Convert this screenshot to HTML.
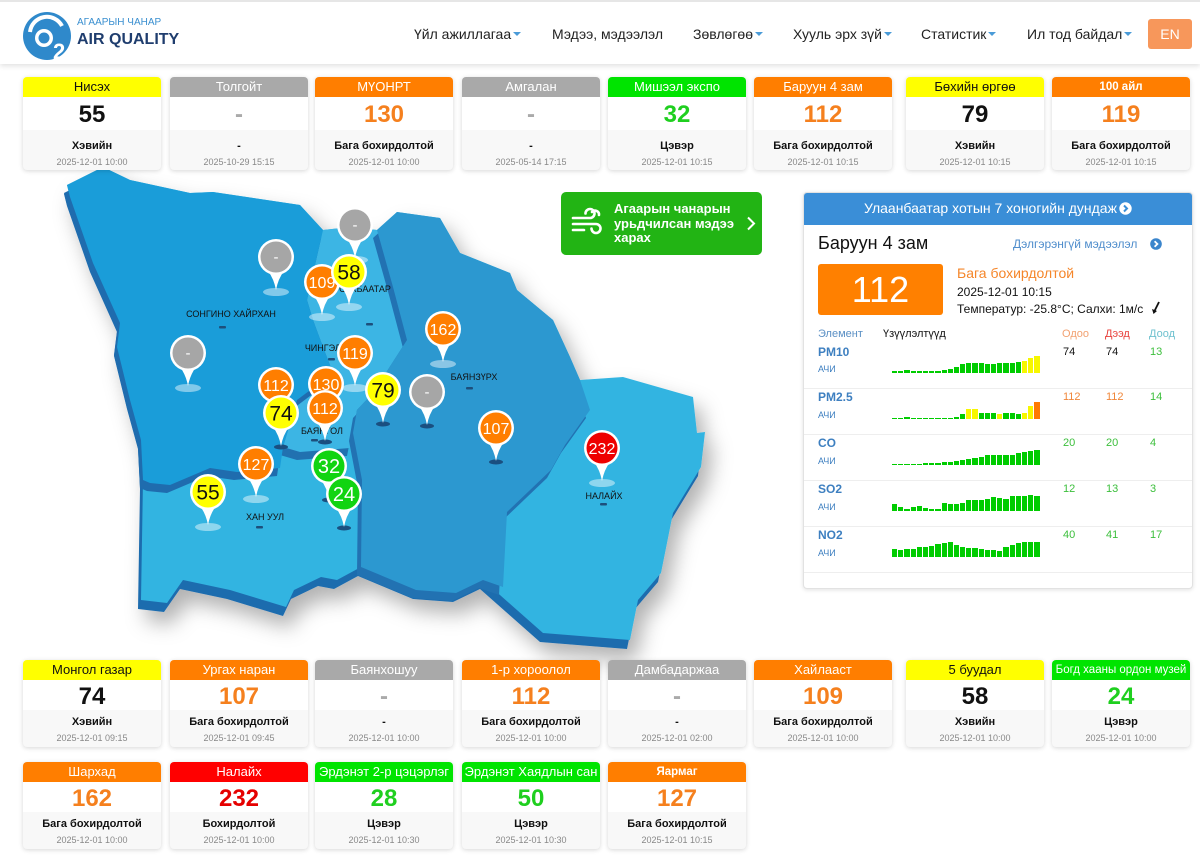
<!DOCTYPE html>
<html>
<head>
<meta charset="utf-8">
<style>
*{box-sizing:border-box}
html,body{margin:0;padding:0;background:#fff}
body{width:1200px;height:867px;overflow:hidden;position:relative;font-family:"Liberation Sans","DejaVu Sans",sans-serif;color:#111}
.abs{position:absolute}
#hdr{position:absolute;left:0;top:0;width:1200px;height:64px;background:#fff;border-top:2px solid #e6e6e6;box-shadow:0 2px 5px rgba(0,0,0,.12);z-index:5}
.nav{position:absolute;top:22px;font-size:14px;line-height:20px;color:#222;white-space:nowrap}
.car{display:inline-block;width:0;height:0;border-left:4px solid transparent;border-right:4px solid transparent;border-top:4px solid #4a9bd8;vertical-align:middle;margin-left:2px;margin-top:-2px}
#en{position:absolute;left:1148px;top:17px;width:44px;height:30px;background:#f7975b;border-radius:3px;color:#fff;font-size:14px;line-height:30px;text-align:center}
.c{position:absolute;width:138px;border-radius:4px;overflow:hidden;background:#f8f8f8;box-shadow:0 1px 5px rgba(0,0,0,.16);text-align:center;z-index:4}
.c .h{height:20px;line-height:20px;font-size:13px;color:#fff;white-space:nowrap;overflow:hidden}
.c .n{background:#fff;font-weight:bold;font-size:24px}
.c .s{font-size:11px;font-weight:bold;line-height:14px;color:#111}
.c .d{font-size:9px;line-height:12px;margin-top:3px;color:#888}
.t .n{height:33px;line-height:35px}
.t .i{height:40px;padding-top:9px}
.b .n{height:30px;line-height:34px}
.b .i{height:37px;padding-top:5px}
.Y{background:#ffff00;color:#111!important}
.O{background:#ff7e00}
.G{background:#00e400}
.R{background:#ff0000}
.A{background:#a9a9a9}
.sm{font-size:11.5px!important;font-weight:bold}
.ny{color:#111}.no{color:#f5801e}.ng{color:#1fcf1f}.nr{color:#e50000}.na{color:#aaa}
#map{position:absolute;left:0;top:0;z-index:1}
#btn{position:absolute;left:561px;top:192px;width:201px;height:63px;background:#22b414;border-radius:5px;z-index:3;color:#fff}
#panel{position:absolute;left:803px;top:192px;width:390px;height:397px;border:1px solid #e2e2e2;border-radius:4px;background:#fff;box-shadow:0 1px 4px rgba(0,0,0,.12);z-index:3;overflow:hidden}
.p{position:absolute;white-space:nowrap}
.bars{position:absolute;left:892px;width:150px;height:17px;display:flex;align-items:flex-end;gap:1px;z-index:4}
.bars i{flex:0 0 5.2px;background:#00cc00;display:block}
.bars i.y{background:#f7f700}
.bars i.o{background:#ff7a00}
.sep{position:absolute;left:804px;width:388px;height:1px;background:#eeeeee;z-index:4}
.lbl{position:absolute;left:818px;font-size:12px;font-weight:bold;color:#3d7fc0;z-index:4;line-height:14px}
.achi{position:absolute;left:818px;font-size:9px;color:#3d7fc0;z-index:4;line-height:12px}
.v{position:absolute;font-size:11px;line-height:14px;z-index:4}
.gv{color:#3cbf3c}.ov{color:#f0873a}
</style>
</head>
<body>

<div id="hdr">
  <svg class="abs" style="left:20px;top:8px" width="56" height="56" viewBox="0 0 56 56">
    <circle cx="27" cy="26" r="24" fill="#2f89cb"/>
    <path d="M10 22 A17 17 0 0 1 42 16" stroke="#fff" stroke-width="4" fill="none"/>
    <circle cx="24" cy="28" r="9" fill="#fff"/>
    <circle cx="24" cy="28" r="5.5" fill="#2f89cb"/>
    <text x="33" y="49" font-family="Liberation Sans" font-weight="bold" font-size="22" fill="#fff">2</text>
  </svg>
  <div class="abs" style="left:77px;top:15px;font-size:10px;line-height:12px;color:#3a8fd0">АГААРЫН ЧАНАР</div>
  <div class="abs" style="left:77px;top:28px;font-size:16px;line-height:19px;font-weight:bold;color:#1f3d6e">AIR QUALITY</div>
  <div class="nav" style="left:414px">Үйл ажиллагаа<span class="car"></span></div>
  <div class="nav" style="left:552px">Мэдээ, мэдээлэл</div>
  <div class="nav" style="left:693px">Зөвлөгөө<span class="car"></span></div>
  <div class="nav" style="left:793px">Хууль эрх зүй<span class="car"></span></div>
  <div class="nav" style="left:921px">Статистик<span class="car"></span></div>
  <div class="nav" style="left:1027px">Ил тод байдал<span class="car"></span></div>
  <div id="en">EN</div>
</div>

<!-- MAP -->
<svg id="map" width="1200" height="867" viewBox="0 0 1200 867" font-family="Liberation Sans, sans-serif">
  <defs>
    <filter id="ds" x="-20%" y="-20%" width="140%" height="140%">
      <feDropShadow dx="8" dy="12" stdDeviation="10" flood-color="#000" flood-opacity="0.3"/>
    </filter>
    <g id="pb">
      <path d="M-8,14 Q-2,22 0,33 Q2,22 8,14 Z" fill="#fff"/>
      <circle r="18" fill="#fff"/>
    </g>
  </defs>
  <g filter="url(#ds)">
    <polygon transform="translate(-3,9)" fill="#1f6cae" points="67,185 103,167 130,180 190,193 213,192 300,205 323,230 350,227 377,230 397,212 440,218 460,253 510,273 517,290 553,320 570,357 580,380 623,377 693,397 697,433 705,432 701,467 673,513 661,573 638,600 630,640 543,633 483,580 456,593 416,590 361,567 337,580 321,577 294,590 286,607 230,590 183,580 167,603 141,600 143,480 141,440 130,400 117,347 120,323 93,263 70,197"/>
    <polygon fill="#33b4e1" points="67,185 103,167 130,180 190,193 213,192 300,205 323,230 350,227 377,230 397,212 440,218 460,253 510,273 517,290 553,320 570,357 580,380 623,377 693,397 697,433 705,432 701,467 673,513 661,573 638,600 630,640 543,633 483,580 456,593 416,590 361,567 337,580 321,577 294,590 286,607 230,590 183,580 167,603 141,600 143,480 141,440 130,400 117,347 120,323 93,263 70,197"/>
  </g>
  <polygon transform="translate(-3,8)" fill="#2171b0" points="323,230 350,227 377,230 393,287 407,340 373,393 357,410 353,433 350,448 300,452 283,447 297,400 333,373 323,347 313,320 307,300"/>
  <polygon fill="#3cb5e4" points="323,230 350,227 377,230 393,287 407,340 373,393 357,410 353,433 350,448 300,452 283,447 297,400 333,373 323,347 313,320 307,300"/>
  <polygon transform="translate(-4,8)" fill="#2272b2" points="377,230 397,212 440,218 460,253 510,273 517,290 553,320 570,357 580,380 590,410 565,445 551,470 507,512 503,587 483,580 456,593 416,590 361,567 362,480 353,433 357,410 373,393 407,340 393,287"/>
  <polygon fill="#2c98d0" points="377,230 397,212 440,218 460,253 510,273 517,290 553,320 570,357 580,380 590,410 565,445 551,470 507,512 503,587 483,580 456,593 416,590 361,567 362,480 353,433 357,410 373,393 407,340 393,287"/>
  <polygon transform="translate(-3,8)" fill="#1f6cae" points="67,185 103,167 130,180 190,193 213,192 300,205 323,230 307,300 313,320 323,347 333,373 297,400 283,447 280,468 237,472 210,468 170,485 150,483 143,480 141,440 130,400 117,347 120,323 93,263 70,197"/>
  <polygon fill="#1a9dd9" points="67,185 103,167 130,180 190,193 213,192 300,205 323,230 307,300 313,320 323,347 333,373 297,400 283,447 280,468 237,472 210,468 170,485 150,483 143,480 141,440 130,400 117,347 120,323 93,263 70,197"/>

  <!-- labels -->
  <g font-size="9" fill="#111" text-anchor="middle">
    <text x="231" y="317">СОНГИНО ХАЙРХАН</text>
    <text x="365" y="292">СҮХБААТАР</text>
    <text x="332" y="351">ЧИНГЭЛТЭЙ</text>
    <text x="474" y="380">БАЯНЗҮРХ</text>
    <text x="322" y="434">БАЯНГОЛ</text>
    <text x="265" y="520">ХАН УУЛ</text>
    <text x="604" y="499">НАЛАЙХ</text>
  </g>
  <g fill="#1d4f7c">
    <rect x="219" y="326" width="7" height="2.5" rx="1"/>
    <rect x="366" y="323" width="7" height="2.5" rx="1"/>
    <rect x="328" y="358" width="7" height="2.5" rx="1"/>
    <rect x="466" y="387" width="7" height="2.5" rx="1"/>
    <rect x="311" y="439" width="7" height="2.5" rx="1"/>
    <rect x="256" y="526" width="7" height="2.5" rx="1"/>
    <rect x="600" y="503" width="7" height="2.5" rx="1"/>
  </g>

  <!-- pins -->
  <g font-family="Liberation Sans, sans-serif" text-anchor="middle">
    <g transform="translate(355,225)"><ellipse cy="35" rx="13" ry="4" fill="#fff" fill-opacity=".45"/><use href="#pb"/><circle r="15.5" fill="#a6a6a6"/><text y="5" font-size="15" fill="#fff">-</text></g>
    <g transform="translate(276,257)"><ellipse cy="35" rx="13" ry="4" fill="#fff" fill-opacity=".45"/><use href="#pb"/><circle r="15.5" fill="#a6a6a6"/><text y="5" font-size="15" fill="#fff">-</text></g>
    <g transform="translate(322,282)"><ellipse cy="35" rx="13" ry="4" fill="#fff" fill-opacity=".45"/><use href="#pb"/><circle r="15.5" fill="#ff7e00"/><text y="6" font-size="16" fill="#fff">109</text></g>
    <g transform="translate(349,272)"><ellipse cy="35" rx="13" ry="4" fill="#fff" fill-opacity=".45"/><use href="#pb"/><circle r="15.5" fill="#ffff00"/><text y="7.5" font-size="21" fill="#111">58</text></g>
    <g transform="translate(443,329)"><ellipse cy="35" rx="13" ry="4" fill="#fff" fill-opacity=".45"/><use href="#pb"/><circle r="15.5" fill="#ff7e00"/><text y="6" font-size="16" fill="#fff">162</text></g>
    <g transform="translate(355,353)"><ellipse cy="35" rx="13" ry="4" fill="#fff" fill-opacity=".45"/><use href="#pb"/><circle r="15.5" fill="#ff7e00"/><text y="6" font-size="16" fill="#fff">119</text></g>
    <g transform="translate(188,353)"><ellipse cy="35" rx="13" ry="4" fill="#fff" fill-opacity=".45"/><use href="#pb"/><circle r="15.5" fill="#a6a6a6"/><text y="5" font-size="15" fill="#fff">-</text></g>
    <g transform="translate(276,385)"><ellipse cy="34" rx="7" ry="2.5" fill="#1a4f80"/><use href="#pb"/><circle r="15.5" fill="#ff7e00"/><text y="6" font-size="16" fill="#fff">112</text></g>
    <g transform="translate(326,384)"><ellipse cy="34" rx="7" ry="2.5" fill="#1a4f80"/><use href="#pb"/><circle r="15.5" fill="#ff7e00"/><text y="6" font-size="16" fill="#fff">130</text></g>
    <g transform="translate(383,390)"><ellipse cy="34" rx="7" ry="2.5" fill="#1a4f80"/><use href="#pb"/><circle r="15.5" fill="#ffff00"/><text y="7.5" font-size="21" fill="#111">79</text></g>
    <g transform="translate(427,392)"><ellipse cy="34" rx="7" ry="2.5" fill="#1a4f80"/><use href="#pb"/><circle r="15.5" fill="#a6a6a6"/><text y="5" font-size="15" fill="#fff">-</text></g>
    <g transform="translate(281,413)"><ellipse cy="34" rx="7" ry="2.5" fill="#1a4f80"/><use href="#pb"/><circle r="15.5" fill="#ffff00"/><text y="7.5" font-size="21" fill="#111">74</text></g>
    <g transform="translate(325,408)"><ellipse cy="34" rx="7" ry="2.5" fill="#1a4f80"/><use href="#pb"/><circle r="15.5" fill="#ff7e00"/><text y="6" font-size="16" fill="#fff">112</text></g>
    <g transform="translate(496,428)"><ellipse cy="34" rx="7" ry="2.5" fill="#1a4f80"/><use href="#pb"/><circle r="15.5" fill="#ff7e00"/><text y="6" font-size="16" fill="#fff">107</text></g>
    <g transform="translate(602,448)"><ellipse cy="35" rx="13" ry="4" fill="#fff" fill-opacity=".45"/><use href="#pb"/><circle r="15.5" fill="#ee0000"/><text y="6" font-size="16" fill="#fff">232</text></g>
    <g transform="translate(256,464)"><ellipse cy="35" rx="13" ry="4" fill="#fff" fill-opacity=".45"/><use href="#pb"/><circle r="15.5" fill="#ff7e00"/><text y="6" font-size="16" fill="#fff">127</text></g>
    <g transform="translate(329,466)"><ellipse cy="34" rx="7" ry="2.5" fill="#1a4f80"/><use href="#pb"/><circle r="15.5" fill="#11d411"/><text y="7" font-size="20" fill="#fff">32</text></g>
    <g transform="translate(344,494)"><ellipse cy="34" rx="7" ry="2.5" fill="#1a4f80"/><use href="#pb"/><circle r="15.5" fill="#11d411"/><text y="7" font-size="20" fill="#fff">24</text></g>
    <g transform="translate(208,492)"><ellipse cy="35" rx="13" ry="4" fill="#fff" fill-opacity=".45"/><use href="#pb"/><circle r="15.5" fill="#ffff00"/><text y="7.5" font-size="21" fill="#111">55</text></g>
  </g>
</svg>

<!-- green button -->
<div id="btn">
  <svg class="abs" style="left:9px;top:15px" width="36" height="32" viewBox="0 0 36 32">
    <g stroke="#fff" stroke-width="2.6" fill="none" stroke-linecap="round">
      <path d="M3 11 H20 a4.5 4.5 0 1 0 -4.5 -4.5"/>
      <path d="M3 17 H26 a4.5 4.5 0 1 1 -4.5 4.5"/>
      <path d="M3 23 H14"/>
      <path d="M22 5 a4 4 0 0 1 7 3"/>
    </g>
  </svg>
  <div class="abs" style="left:53px;top:10px;font-size:13px;font-weight:bold;line-height:14.5px;color:#fff">Агаарын чанарын<br>урьдчилсан мэдээ<br>харах</div>
  <svg class="abs" style="left:185px;top:24px" width="10" height="15" viewBox="0 0 10 15"><path d="M2 1.5 L8 7.5 L2 13.5" stroke="#fff" stroke-width="2" fill="none"/></svg>
</div>

<!-- right panel -->
<div id="panel">
  <div class="abs" style="left:0;top:0;width:390px;height:32px;background:#3a8ed7"></div>
</div>
<div class="p" style="left:864px;top:199px;font-size:14px;line-height:18px;color:#fff;z-index:4">Улаанбаатар хотын 7 хоногийн дундаж</div>
<svg class="abs" style="left:1119px;top:202px;z-index:4" width="13" height="13" viewBox="0 0 13 13"><circle cx="6.5" cy="6.5" r="6.2" fill="#fff"/><path d="M5 3.5 L8 6.5 L5 9.5" stroke="#3a8ed7" stroke-width="2" fill="none"/></svg>

<div class="p" style="left:818px;top:232px;font-size:18px;line-height:22px;color:#111;z-index:4">Баруун 4 зам</div>
<div class="p" style="left:1013px;top:237px;font-size:12px;line-height:15px;color:#4f8dcc;z-index:4">Дэлгэрэнгүй мэдээлэл</div>
<svg class="abs" style="left:1150px;top:238px;z-index:4" width="12" height="12" viewBox="0 0 12 12"><circle cx="6" cy="6" r="5.8" fill="#3a85cc"/><path d="M4.6 3.2 L7.4 6 L4.6 8.8" stroke="#fff" stroke-width="1.8" fill="none"/></svg>

<div class="abs" style="left:818px;top:264px;width:125px;height:51px;background:#ff8000;border-radius:3px;color:#fff;font-size:36px;line-height:52px;text-align:center;z-index:4">112</div>
<div class="p" style="left:957px;top:264px;font-size:14px;line-height:18px;color:#f5862a;z-index:4">Бага бохирдолтой</div>
<div class="p" style="left:957px;top:284px;font-size:12px;line-height:16px;color:#111;z-index:4">2025-12-01 10:15</div>
<div class="p" style="left:957px;top:301px;font-size:12px;line-height:16px;color:#111;z-index:4">Температур: -25.8°C; Салхи: 1м/с</div>
<svg class="abs" style="left:1150px;top:301px;z-index:4" width="12" height="14" viewBox="0 0 12 14"><path d="M9 1 L4 11" stroke="#111" stroke-width="1.8"/><path d="M2 8 L3.5 13 L7 10 Z" fill="#111"/></svg>

<div class="p" style="left:818px;top:327px;font-size:11px;line-height:14px;color:#5a8fc4;z-index:4">Элемент</div>
<div class="p" style="left:883px;top:327px;font-size:11px;line-height:14px;color:#111;z-index:4">Үзүүлэлтүүд</div>
<div class="p" style="left:1062px;top:327px;font-size:11px;line-height:14px;color:#f2a171;z-index:4">Одоо</div>
<div class="p" style="left:1105px;top:327px;font-size:11px;line-height:14px;color:#e8413c;z-index:4">Дээд</div>
<div class="p" style="left:1149px;top:327px;font-size:11px;line-height:14px;color:#6ec1cf;z-index:4">Доод</div>

<!-- PM10 -->
<div class="lbl" style="top:345px">PM10</div><div class="achi" style="top:363px">АЧИ</div>
<div class="v" style="left:1063px;top:345px;color:#111">74</div><div class="v" style="left:1106px;top:345px;color:#111">74</div><div class="v gv" style="left:1150px;top:345px">13</div>
<div class="bars" style="top:356px"><i style="height:2px"></i><i style="height:2px"></i><i style="height:3px"></i><i style="height:2px"></i><i style="height:2px"></i><i style="height:2px"></i><i style="height:2px"></i><i style="height:2px"></i><i style="height:3px"></i><i style="height:4px"></i><i style="height:6px"></i><i style="height:9px"></i><i style="height:10px"></i><i style="height:10px"></i><i style="height:10px"></i><i style="height:9px"></i><i style="height:9px"></i><i style="height:10px"></i><i style="height:10px"></i><i style="height:10px"></i><i style="height:11px"></i><i class="y" style="height:12px"></i><i class="y" style="height:15px"></i><i class="y" style="height:17px"></i></div>
<div class="sep" style="top:388px"></div>

<!-- PM2.5 -->
<div class="lbl" style="top:390px">PM2.5</div><div class="achi" style="top:409px">АЧИ</div>
<div class="v ov" style="left:1063px;top:390px">112</div><div class="v ov" style="left:1106px;top:390px">112</div><div class="v gv" style="left:1150px;top:390px">14</div>
<div class="bars" style="top:402px"><i style="height:1.5px"></i><i style="height:1.5px"></i><i style="height:2.5px"></i><i style="height:1.5px"></i><i style="height:1.5px"></i><i style="height:1.5px"></i><i style="height:1.5px"></i><i style="height:1.5px"></i><i style="height:1.5px"></i><i style="height:1.5px"></i><i style="height:2px"></i><i style="height:5px"></i><i class="y" style="height:10px"></i><i class="y" style="height:10px"></i><i style="height:6px"></i><i style="height:6px"></i><i style="height:6px"></i><i class="y" style="height:5px"></i><i style="height:6px"></i><i style="height:6px"></i><i style="height:5px"></i><i class="y" style="height:6px"></i><i class="y" style="height:13px"></i><i class="o" style="height:17px"></i></div>
<div class="sep" style="top:434px"></div>

<!-- CO -->
<div class="lbl" style="top:436px">CO</div><div class="achi" style="top:455px">АЧИ</div>
<div class="v gv" style="left:1063px;top:436px">20</div><div class="v gv" style="left:1106px;top:436px">20</div><div class="v gv" style="left:1150px;top:436px">4</div>
<div class="bars" style="top:448px"><i style="height:1.5px"></i><i style="height:1.5px"></i><i style="height:1.5px"></i><i style="height:1.5px"></i><i style="height:1.5px"></i><i style="height:2px"></i><i style="height:2px"></i><i style="height:2px"></i><i style="height:3px"></i><i style="height:3px"></i><i style="height:4px"></i><i style="height:5px"></i><i style="height:6px"></i><i style="height:7px"></i><i style="height:8px"></i><i style="height:10px"></i><i style="height:10px"></i><i style="height:10px"></i><i style="height:10px"></i><i style="height:10px"></i><i style="height:12px"></i><i style="height:13px"></i><i style="height:14px"></i><i style="height:15px"></i></div>
<div class="sep" style="top:480px"></div>

<!-- SO2 -->
<div class="lbl" style="top:482px">SO2</div><div class="achi" style="top:501px">АЧИ</div>
<div class="v gv" style="left:1063px;top:482px">12</div><div class="v gv" style="left:1106px;top:482px">13</div><div class="v gv" style="left:1150px;top:482px">3</div>
<div class="bars" style="top:494px"><i style="height:7px"></i><i style="height:4px"></i><i style="height:2px"></i><i style="height:4px"></i><i style="height:5px"></i><i style="height:3px"></i><i style="height:2px"></i><i style="height:2px"></i><i style="height:8px"></i><i style="height:7px"></i><i style="height:7px"></i><i style="height:8px"></i><i style="height:11px"></i><i style="height:11px"></i><i style="height:11px"></i><i style="height:12px"></i><i style="height:14px"></i><i style="height:13px"></i><i style="height:12px"></i><i style="height:15px"></i><i style="height:15px"></i><i style="height:15px"></i><i style="height:16px"></i><i style="height:15px"></i></div>
<div class="sep" style="top:526px"></div>

<!-- NO2 -->
<div class="lbl" style="top:528px">NO2</div><div class="achi" style="top:547px">АЧИ</div>
<div class="v gv" style="left:1063px;top:528px">40</div><div class="v gv" style="left:1106px;top:528px">41</div><div class="v gv" style="left:1150px;top:528px">17</div>
<div class="bars" style="top:540px"><i style="height:8px"></i><i style="height:7px"></i><i style="height:8px"></i><i style="height:8px"></i><i style="height:10px"></i><i style="height:10px"></i><i style="height:11px"></i><i style="height:13px"></i><i style="height:14px"></i><i style="height:15px"></i><i style="height:12px"></i><i style="height:10px"></i><i style="height:9px"></i><i style="height:9px"></i><i style="height:8px"></i><i style="height:7px"></i><i style="height:7px"></i><i style="height:6px"></i><i style="height:10px"></i><i style="height:12px"></i><i style="height:14px"></i><i style="height:15px"></i><i style="height:15px"></i><i style="height:15px"></i></div>
<div class="sep" style="top:572px"></div>

<!-- TOP CARDS -->
<div class="c t" style="left:23px;top:77px"><div class="h Y">Нисэх</div><div class="n ny">55</div><div class="i"><div class="s">Хэвийн</div><div class="d">2025-12-01 10:00</div></div></div>
<div class="c t" style="left:170px;top:77px"><div class="h A">Толгойт</div><div class="n na">-</div><div class="i"><div class="s">-</div><div class="d">2025-10-29 15:15</div></div></div>
<div class="c t" style="left:315px;top:77px"><div class="h O">МҮОНРТ</div><div class="n no">130</div><div class="i"><div class="s">Бага бохирдолтой</div><div class="d">2025-12-01 10:00</div></div></div>
<div class="c t" style="left:462px;top:77px"><div class="h A">Амгалан</div><div class="n na">-</div><div class="i"><div class="s">-</div><div class="d">2025-05-14 17:15</div></div></div>
<div class="c t" style="left:608px;top:77px"><div class="h G">Мишээл экспо</div><div class="n ng">32</div><div class="i"><div class="s">Цэвэр</div><div class="d">2025-12-01 10:15</div></div></div>
<div class="c t" style="left:754px;top:77px"><div class="h O">Баруун 4 зам</div><div class="n no">112</div><div class="i"><div class="s">Бага бохирдолтой</div><div class="d">2025-12-01 10:15</div></div></div>
<div class="c t" style="left:906px;top:77px"><div class="h Y">Бөхийн өргөө</div><div class="n ny">79</div><div class="i"><div class="s">Хэвийн</div><div class="d">2025-12-01 10:15</div></div></div>
<div class="c t" style="left:1052px;top:77px"><div class="h O sm">100 айл</div><div class="n no">119</div><div class="i"><div class="s">Бага бохирдолтой</div><div class="d">2025-12-01 10:15</div></div></div>

<!-- BOTTOM ROW 1 -->
<div class="c b" style="left:23px;top:660px"><div class="h Y">Монгол газар</div><div class="n ny">74</div><div class="i"><div class="s">Хэвийн</div><div class="d">2025-12-01 09:15</div></div></div>
<div class="c b" style="left:170px;top:660px"><div class="h O">Ургах наран</div><div class="n no">107</div><div class="i"><div class="s">Бага бохирдолтой</div><div class="d">2025-12-01 09:45</div></div></div>
<div class="c b" style="left:315px;top:660px"><div class="h A">Баянхошуу</div><div class="n na">-</div><div class="i"><div class="s">-</div><div class="d">2025-12-01 10:00</div></div></div>
<div class="c b" style="left:462px;top:660px"><div class="h O">1-р хороолол</div><div class="n no">112</div><div class="i"><div class="s">Бага бохирдолтой</div><div class="d">2025-12-01 10:00</div></div></div>
<div class="c b" style="left:608px;top:660px"><div class="h A">Дамбадаржаа</div><div class="n na">-</div><div class="i"><div class="s">-</div><div class="d">2025-12-01 02:00</div></div></div>
<div class="c b" style="left:754px;top:660px"><div class="h O">Хайлааст</div><div class="n no">109</div><div class="i"><div class="s">Бага бохирдолтой</div><div class="d">2025-12-01 10:00</div></div></div>
<div class="c b" style="left:906px;top:660px"><div class="h Y">5 буудал</div><div class="n ny">58</div><div class="i"><div class="s">Хэвийн</div><div class="d">2025-12-01 10:00</div></div></div>
<div class="c b" style="left:1052px;top:660px"><div class="h G sm" style="font-weight:normal">Богд хааны ордон музей</div><div class="n ng">24</div><div class="i"><div class="s">Цэвэр</div><div class="d">2025-12-01 10:00</div></div></div>

<!-- BOTTOM ROW 2 -->
<div class="c b" style="left:23px;top:762px"><div class="h O">Шархад</div><div class="n no">162</div><div class="i"><div class="s">Бага бохирдолтой</div><div class="d">2025-12-01 10:00</div></div></div>
<div class="c b" style="left:170px;top:762px"><div class="h R">Налайх</div><div class="n nr">232</div><div class="i"><div class="s">Бохирдолтой</div><div class="d">2025-12-01 10:00</div></div></div>
<div class="c b" style="left:315px;top:762px"><div class="h G">Эрдэнэт 2-р цэцэрлэг</div><div class="n ng">28</div><div class="i"><div class="s">Цэвэр</div><div class="d">2025-12-01 10:30</div></div></div>
<div class="c b" style="left:462px;top:762px"><div class="h G">Эрдэнэт Хаядлын сан</div><div class="n ng">50</div><div class="i"><div class="s">Цэвэр</div><div class="d">2025-12-01 10:30</div></div></div>
<div class="c b" style="left:608px;top:762px"><div class="h O sm">Яармаг</div><div class="n no">127</div><div class="i"><div class="s">Бага бохирдолтой</div><div class="d">2025-12-01 10:15</div></div></div>

</body>
</html>
